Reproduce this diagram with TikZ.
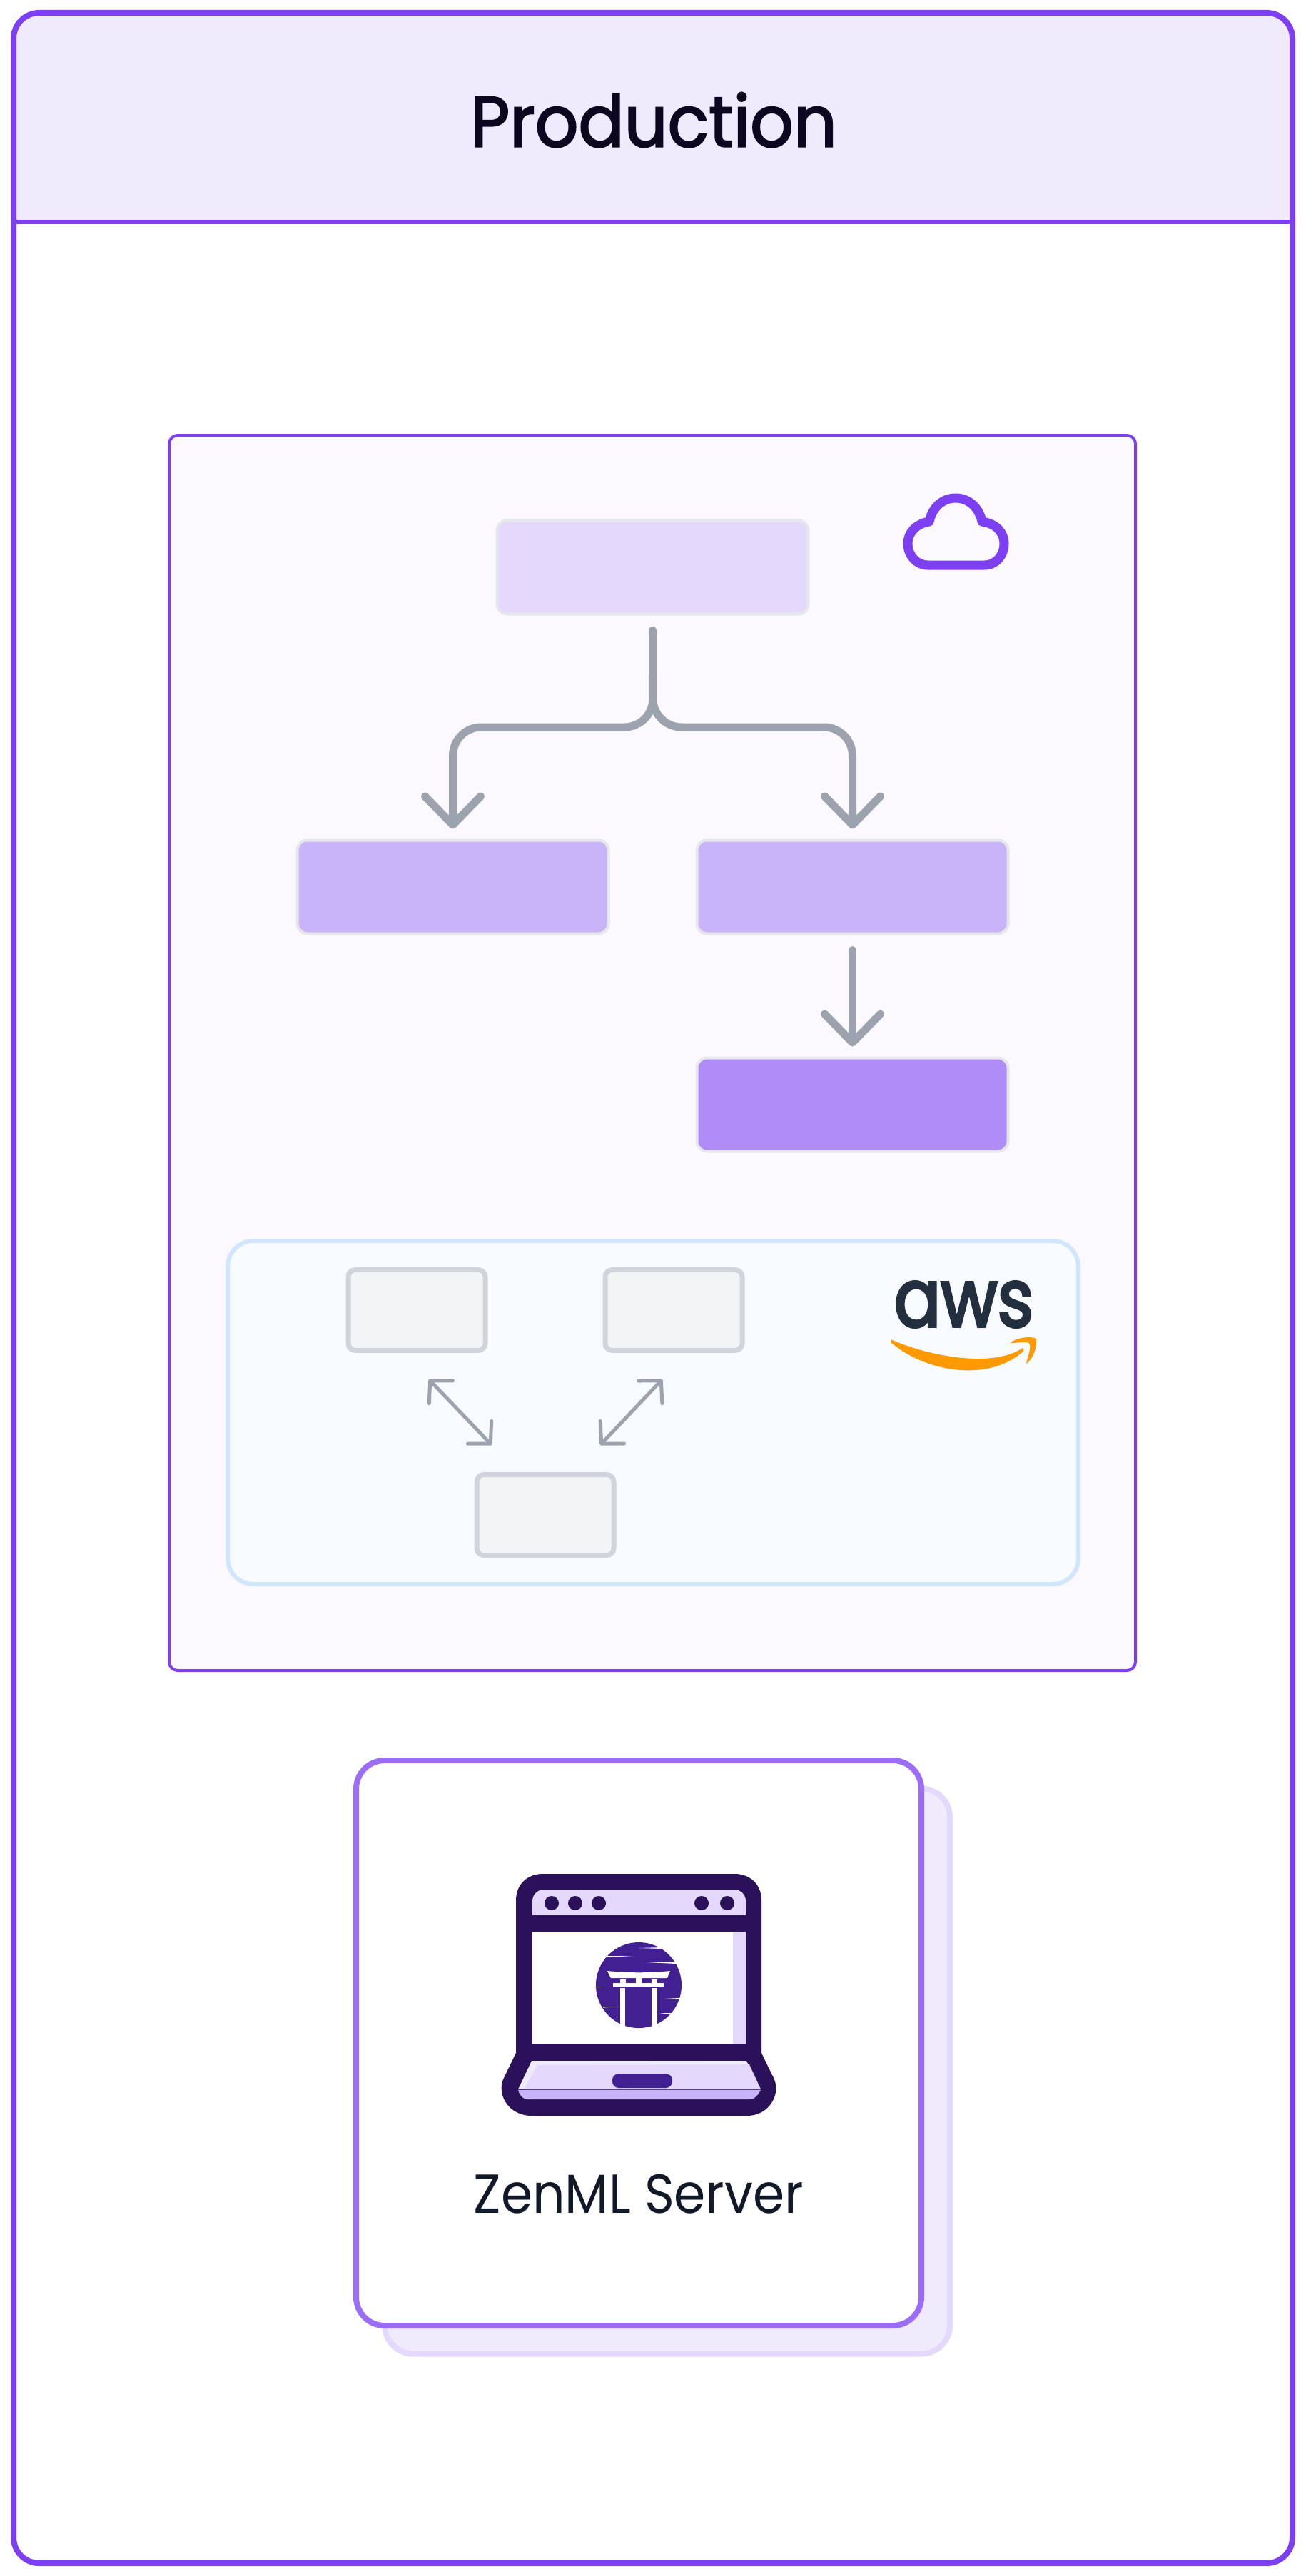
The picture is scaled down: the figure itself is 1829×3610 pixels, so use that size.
\documentclass[tikz,border=0pt]{standalone}
\usepackage{fontspec}
\setmainfont{Poppins}
\newfontfamily\titlefont[FakeStretch=0.95,FakeBold=2.2]{Poppins}
\newfontfamily\serverfont[FakeStretch=0.925]{Poppins}
\newfontfamily\awsfont[FakeStretch=0.85,FakeBold=3]{Poppins}
\usetikzlibrary{arrows.meta}
\definecolor{zenPurple}{HTML}{7C3FF2}
\definecolor{zenEdge}{HTML}{9B6DF8}
\definecolor{zenDark}{HTML}{2A1159}
\definecolor{zenMid}{HTML}{432092}
\definecolor{zenPale}{HTML}{F0EAFD}
\definecolor{zenSoft}{HTML}{E4D9FC}
\definecolor{zenLight}{HTML}{C9B3F9}
\definecolor{zenStrong}{HTML}{AF8CF6}
\definecolor{cloudFill}{HTML}{FBF9FF}
\definecolor{awsFill}{HTML}{F8FBFF}
\definecolor{awsEdge}{HTML}{CFE6FD}
\definecolor{awsInk}{HTML}{232F3E}
\definecolor{awsOrange}{HTML}{FF9900}
\definecolor{stepEdge}{HTML}{E5E7EB}
\definecolor{hostFill}{HTML}{F3F4F6}
\definecolor{hostEdge}{HTML}{D1D5DB}
\definecolor{flowGray}{HTML}{9CA3AF}
\definecolor{labelInk}{HTML}{111827}
\definecolor{titleInk}{HTML}{0D0620}
\tikzset{
  stepbox/.style={draw=stepEdge,line width=4pt,rounded corners=14pt,minimum width=436pt,minimum height=131pt,outer sep=16pt},
  hostbox/.style={draw=hostEdge,fill=hostFill,line width=7pt,rounded corners=10pt,minimum width=192pt,minimum height=113pt,outer sep=0pt},
  flow/.style={draw=flowGray,line width=11pt,line cap=round,shorten <=7pt,-{Straight Barb[length=40pt,width=78pt,round]}},
  link/.style={draw=flowGray,line width=5pt,{Straight Barb[length=22pt,width=46pt,round]}-{Straight Barb[length=22pt,width=46pt,round]}}
}
\begin{document}
\begin{tikzpicture}[x=1pt,y=-1pt]
  \useasboundingbox (0,0) rectangle (1829,3610);
  \fill[white] (0,0) rectangle (1829,3610);
  % outer frame
  \node (frame) [fill=white,rounded corners=36pt,minimum width=1792pt,minimum height=3574pt,outer sep=0pt] at (915,1805) {};
  \coordinate (headL) at (frame.west |- 0,311);
  \coordinate (headR) at (frame.east |- 0,311);
  \fill[zenPale] (headL) [rounded corners=36pt] -- (frame.north west) -- (frame.north east) [sharp corners] -- (headR) -- cycle;
  \draw[draw=zenPurple,line width=6pt] (headL) -- (headR);
  \draw[draw=zenPurple,line width=8pt,rounded corners=36pt] (frame.south west) rectangle (frame.north east);
  \node (title) [text=titleInk,font=\titlefont\fontsize{100pt}{100pt}\selectfont] at (916,168) {Production};
  % cloud stack
  \node (cloudbox) [draw=zenPurple,fill=cloudFill,line width=4pt,rounded corners=12pt,minimum width=1354pt,minimum height=1731pt] at (914,1475.5) {};
  \node (top) [stepbox,fill=zenSoft] at (914.5,795) {};
  \node (left) [stepbox,fill=zenLight] at (634.5,1243) {};
  \node (right) [stepbox,fill=zenLight] at (1194.5,1243) {};
  \node (bottom) [stepbox,fill=zenStrong] at (1194.5,1548) {};
  \coordinate (split) at (915,1019);
  \draw[flow,rounded corners=40pt] (top.south) -- (split) -| (left.north);
  \draw[flow,rounded corners=40pt] (top.south) -- (split) -| (right.north);
  \draw[flow] (right.south) -- (bottom.north);
  % cloud icon
  \draw[draw=zenPurple,line width=13pt,line join=round] (1300,792) -- (1379,792) .. controls (1396,792) and (1407,778) .. (1407,762) .. controls (1407,746) and (1396,734) .. (1376,731) .. controls (1372,712) and (1358,698) .. (1339,698) .. controls (1320,698) and (1306,712) .. (1302,731) .. controls (1284,734) and (1272,746) .. (1272,762) .. controls (1272,778) and (1284,792) .. (1300,792) -- cycle;
  % aws stack
  \node (awsbox) [draw=awsEdge,fill=awsFill,line width=6pt,rounded corners=36pt,minimum width=1192pt,minimum height=481pt] at (915,1979.5) {};
  \node (hostA) [hostbox] at (584,1836) {};
  \node (hostB) [hostbox] at (944,1836) {};
  \node (hostC) [hostbox] at (764,2123) {};
  \coordinate (linkAend) at (601,1933);
  \coordinate (linkBend) at (928,1933);
  \coordinate (linkCa) at (689,2025);
  \coordinate (linkCb) at (841,2025);
  \draw[link] (linkAend) -- (linkCa);
  \draw[link] (linkBend) -- (linkCb);
  \node (awsword) [text=awsInk,font=\awsfont\fontsize{114pt}{114pt}\selectfont,inner sep=0pt] at (1350.5,1828) {aws};
  \fill[awsOrange] (1248,1877) .. controls (1300,1900) and (1390,1918) .. (1433,1889) .. controls (1436,1892) and (1434,1894) .. (1431,1896) .. controls (1385,1935) and (1300,1925) .. (1248,1881) -- cycle;
  \fill[awsOrange] (1415,1882) .. controls (1425,1874) and (1445,1872) .. (1452,1876) .. controls (1453,1890) and (1447,1905) .. (1438,1911) .. controls (1440,1900) and (1446,1888) .. (1442,1882) .. controls (1436,1880) and (1425,1882) .. (1415,1882) -- cycle;
  % server card
  \node (serverback) [draw=zenSoft,fill=zenPale,line width=8pt,rounded corners=40pt,minimum width=792pt,minimum height=792pt] at (935,2902.5) {};
  \node (server) [draw=zenEdge,fill=white,line width=8pt,rounded corners=40pt,minimum width=792pt,minimum height=792pt] at (895,2863) {};
  % laptop
  \fill[zenDark] (723,2877) -- (723,2663) .. controls (723,2640) and (740,2626) .. (760,2626) -- (1030,2626) .. controls (1050,2626) and (1067,2640) .. (1067,2663) -- (1067,2877) -- (1084,2912) .. controls (1095,2934) and (1078,2965) .. (1047,2965) -- (745,2965) .. controls (712,2965) and (695,2934) .. (706,2912) -- cycle;
  \fill[zenSoft,rounded corners=16pt] (746,2700) -- (746,2648) -- (1045,2648) -- (1045,2700) -- cycle;
  \fill[zenDark] (746,2684) rectangle (1045,2707);
  \fill[white] (746,2707) rectangle (1045,2864);
  \fill[zenSoft] (1027,2707) rectangle (1045,2864);
  \foreach \dotx in {773,806,839,983,1019}
    \fill[zenDark] (\dotx,2667) circle (10pt);
  \fill[zenPale] (745,2888) -- (1046,2888) -- (1066,2928) -- (726,2928) -- cycle;
  \fill[zenSoft] (753,2894) -- (1050,2893) -- (1066,2928) -- (734,2928) -- cycle;
  \fill[zenLight] (726,2929) -- (1066,2929) .. controls (1062,2936) and (1058,2942) .. (1050,2942) -- (740,2942) .. controls (732,2942) and (728,2936) .. (726,2929) -- cycle;
  \fill[zenMid,rounded corners=9pt] (858,2906) rectangle (942,2926);
  % gate logo
  \fill[zenMid] (895,2782) circle (60pt);
  \fill[white] (851,2762) .. controls (880,2765) and (910,2765) .. (939,2762) -- (935,2772) -- (856,2772) -- cycle;
  \fill[white] (891,2772) rectangle (899,2780);
  \fill[white] (869,2774) rectangle (877,2780);
  \fill[white] (913,2774) rectangle (921,2780);
  \fill[white] (859,2779) rectangle (930,2784);
  \fill[white] (869,2786) rectangle (876,2840);
  \fill[white] (913,2786) rectangle (921,2840);
  \fill[white] (895,2730) -- (928,2729) -- (928,2731) -- cycle;
  \fill[white] (848,2741) -- (887,2741) -- (848,2743) -- cycle;
  \fill[white] (906,2750) -- (948,2750) -- (948,2752) -- cycle;
  \fill[white] (835,2784) -- (849,2784.5) -- (835,2785) -- cycle;
  \fill[white] (930,2801) -- (952,2800) -- (952,2802) -- cycle;
  \fill[white] (845,2812) -- (867,2812) -- (845,2813.5) -- cycle;
  \fill[white] (924,2821) -- (942,2821) -- (942,2823) -- cycle;
  \node (serverlabel) [text=labelInk,font=\serverfont\fontsize{77pt}{77pt}\selectfont] at (895,3075) {ZenML Server};
\end{tikzpicture}
\end{document}
